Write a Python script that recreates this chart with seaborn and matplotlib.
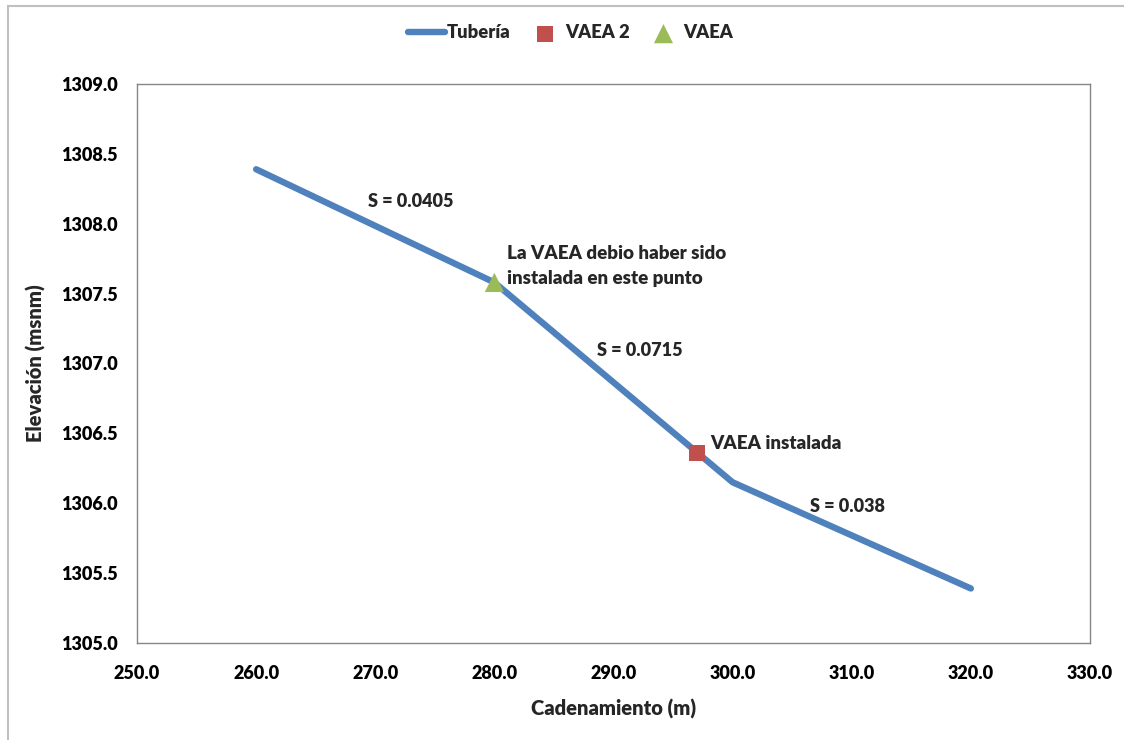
import numpy as np
import pandas as pd
import matplotlib.pyplot as plt
import seaborn as sns
from matplotlib.patches import Rectangle
from matplotlib.ticker import FormatStrFormatter

# datos del perfil de la tubería
cadenamiento = [260.0, 280.0, 300.0, 320.0]
elevacion = [1308.39, 1307.58, 1306.15, 1305.39]

# válvulas de admisión y expulsión de aire
vaea2_x = [297.0]
vaea2_y = [1306.36]
vaea_x = [280.0]
vaea_y = [1307.58]

pendientes = ["S = 0.0405", "S = 0.0715", "S = 0.038"]

AZUL = "#4F81BD"
ROJO = "#C0504D"
VERDE = "#9BBB59"
PESO = 'heavy'

sns.set_theme(style="white")
plt.rcParams['font.family'] = ['Lato', 'DejaVu Sans']
plt.rcParams['font.weight'] = PESO

df_tub = pd.DataFrame({"x": cadenamiento, "y": elevacion})
df_v2 = pd.DataFrame({"x": vaea2_x, "y": vaea2_y})
df_v1 = pd.DataFrame({"x": vaea_x, "y": vaea_y})

fig = plt.figure(figsize=(11.24, 7.4), dpi=100)
ax = fig.add_axes([137/1124, 1 - 643/740, (1090-137)/1124, (643-84)/740])

sns.lineplot(data=df_tub, x="x", y="y", ax=ax, color=AZUL, linewidth=4.6,
             solid_capstyle='round', solid_joinstyle='round', label="Tubería", zorder=2)
sns.scatterplot(data=df_v2, x="x", y="y", ax=ax, color=ROJO, marker='s', s=135,
                edgecolor='none', label="VAEA 2", zorder=3)
sns.scatterplot(data=df_v1, x="x", y="y", ax=ax, color=VERDE, marker='^', s=190,
                edgecolor='none', label="VAEA", zorder=3)

ax.set_xlim(250, 330)
ax.set_ylim(1305, 1309)
ax.set_xticks(np.arange(250, 331, 10))
ax.set_yticks(np.arange(1305, 1309.01, 0.5))
ax.xaxis.set_major_formatter(FormatStrFormatter('%.1f'))
ax.yaxis.set_major_formatter(FormatStrFormatter('%.1f'))
ax.tick_params(axis='both', length=0, labelsize=13, colors='black')
ax.tick_params(axis='x', pad=16)
ax.tick_params(axis='y', pad=14)
for lab in ax.get_xticklabels() + ax.get_yticklabels():
    lab.set_fontweight(PESO)

for sp in ax.spines.values():
    sp.set_color('#868686')
    sp.set_linewidth(1.0)

ax.set_xlabel("Cadenamiento (m)", fontsize=14.5, fontweight=PESO, labelpad=12)
ax.set_ylabel("Elevación (msnm)", fontsize=14.5, fontweight=PESO, labelpad=11)

# anotaciones
ax.text(273.0, 1308.16, pendientes[0], fontsize=13, fontweight=PESO, ha='center', va='center')
ax.text(292.2, 1307.09, pendientes[1], fontsize=13, fontweight=PESO, ha='center', va='center')
ax.text(309.6, 1305.98, pendientes[2], fontsize=13, fontweight=PESO, ha='center', va='center')
ax.text(281.1, 1307.70, "La VAEA debio haber sido\ninstalada en este punto", fontsize=13.5,
        fontweight=PESO, ha='left', va='center', linespacing=1.55)
ax.text(298.1, 1306.43, "VAEA instalada", fontsize=13.5, fontweight=PESO, ha='left', va='center')

ax.get_legend().remove()
h, l = ax.get_legend_handles_labels()
fig.legend(h, l, loc='center', bbox_to_anchor=(571/1124, 1 - 33/740), ncol=3, frameon=False,
           handlelength=2.0, handletextpad=0.1, columnspacing=0.85,
           prop={'weight': PESO, 'size': 13.2})

# borde exterior del gráfico
fig.patches.append(Rectangle((8/1124, -0.01), 1.05, 1 - 6/740 + 0.01, transform=fig.transFigure,
                             fill=False, edgecolor='#C0C0C0', linewidth=1.5))

fig.savefig("out.png", dpi=100)
